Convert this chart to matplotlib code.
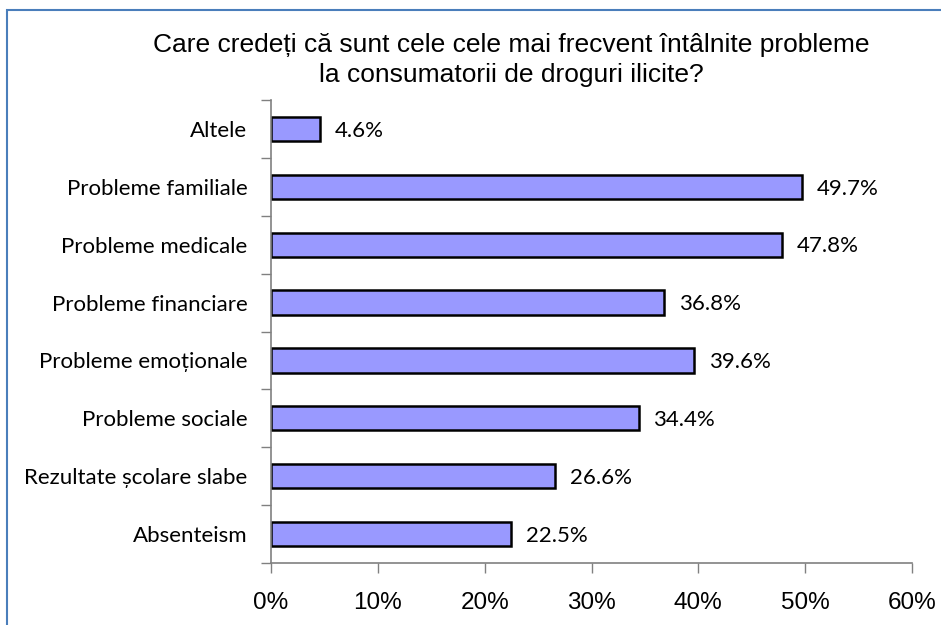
import matplotlib.pyplot as plt
import numpy as np
from matplotlib.patches import Rectangle

categories = ["Altele", "Probleme familiale", "Probleme medicale", "Probleme financiare",
              "Probleme emoționale", "Probleme sociale", "Rezultate școlare slabe", "Absenteism"]
values = [4.6, 49.7, 47.8, 36.8, 39.6, 34.4, 26.6, 22.5]
xticks = [0, 10, 20, 30, 40, 50, 60]
title = "Care credeți că sunt cele cele mai frecvent întâlnite probleme\nla consumatorii de droguri ilicite?"

fig = plt.figure(figsize=(9.41, 6.25), dpi=100)
ax = fig.add_axes([271 / 941, 1 - 563 / 625, (912 - 271) / 941, (563 - 100) / 625])

# outer blue frame (only left and top visible)
fig.patches.append(Rectangle((7 / 941, -0.1), 1.2, 1 - 10 / 625 + 0.1, transform=fig.transFigure,
                             fill=False, edgecolor="#4a7ebb", linewidth=1.5))

y = np.arange(len(categories))
ax.barh(y, values, height=0.42, color="#9999ff", edgecolor="black", linewidth=1.8)
ax.set_ylim(len(categories) - 0.5, -0.5)
ax.set_xlim(0, 60)

for yi, v in zip(y, values):
    ax.text(v + 1.4, yi + 0.03, f"{v:.1f}%", va="center", ha="left", fontsize=16, family="Lato")

ax.set_yticks(y)
ax.set_yticklabels(categories, fontsize=16, family="Lato")
ax.set_yticks(np.arange(len(categories) + 1) - 0.5, minor=True)
ax.tick_params(axis="y", which="major", length=0, pad=17)
ax.tick_params(axis="y", which="minor", length=7, color="#808080", width=1)

ax.set_xticks(xticks)
ax.set_xticklabels([f"{t}%" for t in xticks], fontsize=17.5, family="Liberation Sans")
ax.tick_params(axis="x", length=7, color="#808080", width=1, pad=14)

for s in ["top", "right"]:
    ax.spines[s].set_visible(False)
for s in ["left", "bottom"]:
    ax.spines[s].set_color("#808080")
    ax.spines[s].set_linewidth(1.2)

fig.text(511 / 941, 1 - 60 / 625, title, ha="center", va="center", fontsize=19,
         family="Liberation Sans", linespacing=1.28)

fig.savefig("out.png", dpi=100)
